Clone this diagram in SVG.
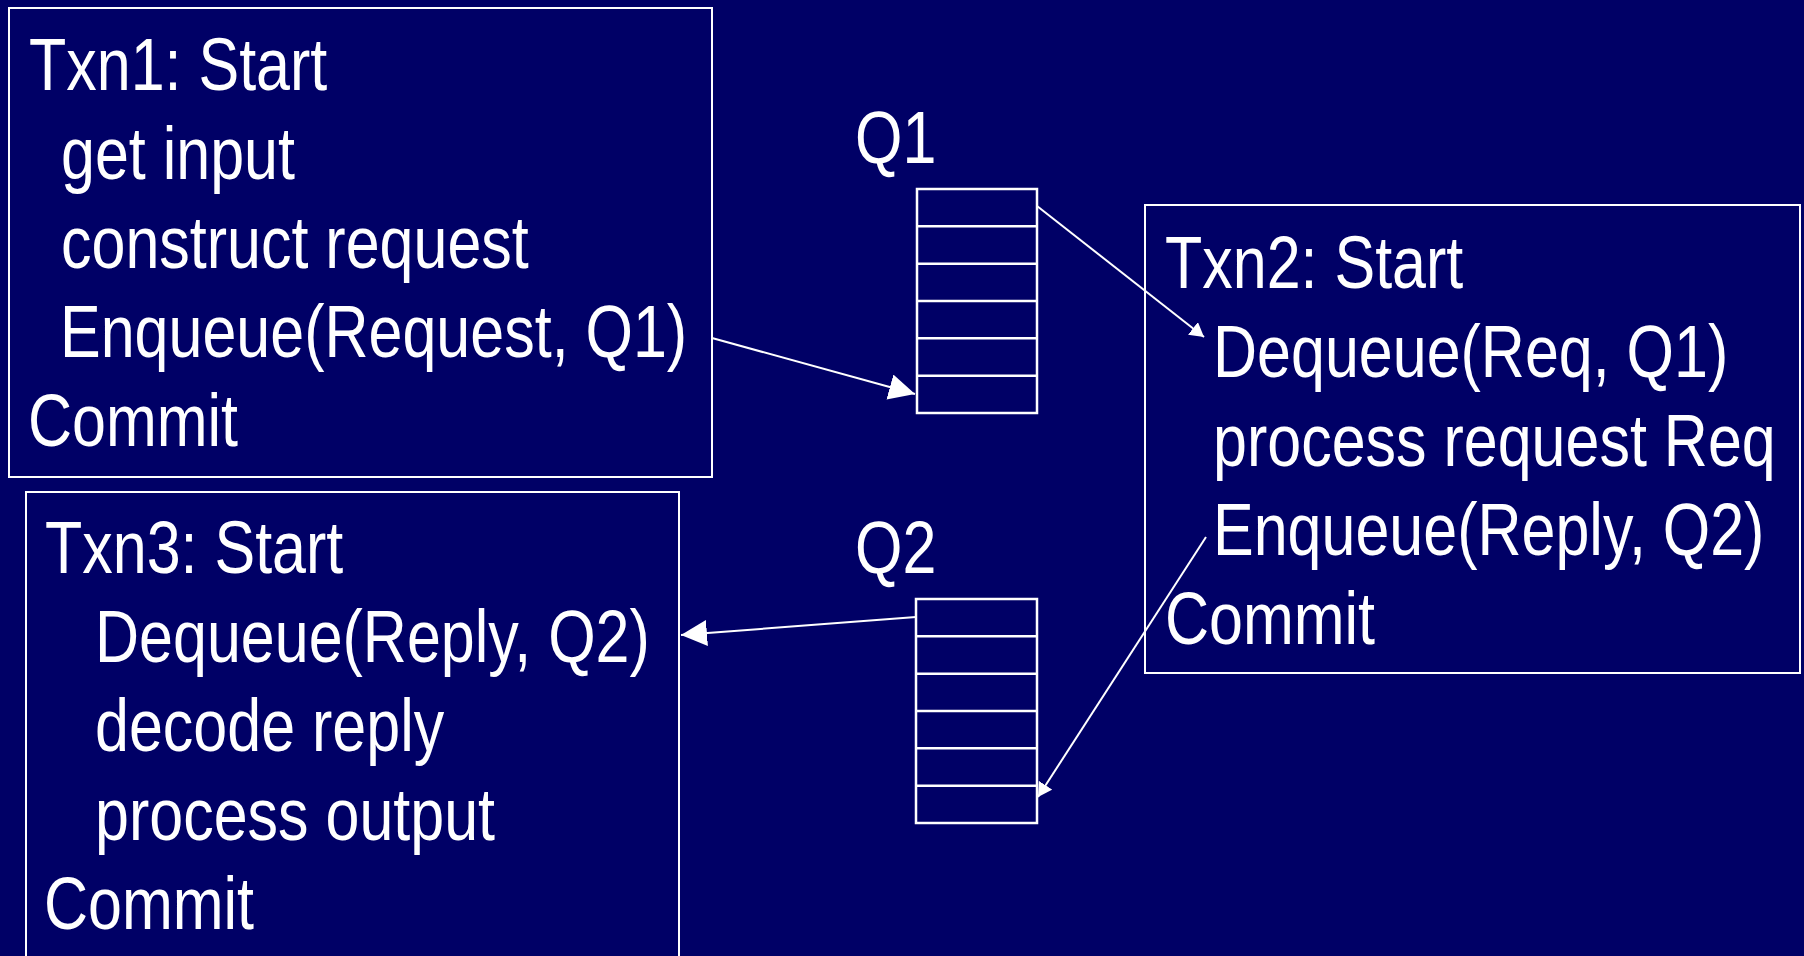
<svg xmlns="http://www.w3.org/2000/svg" width="1804" height="956" viewBox="0 0 1804 956">
  <style>
    .bg { fill: #000066; }
    .box { fill: none; stroke: #ffffff; stroke-width: 2; }
    .q { fill: none; stroke: #ffffff; stroke-width: 2.5; }
    .t { font-family: "Liberation Sans", Arial, sans-serif; font-size: 74px; fill: #ffffff; }
    .wire { stroke: #ffffff; stroke-width: 2; fill: none; }
    .big { marker-end: url(#headBig); }
    .small { marker-end: url(#headSmall); }
  </style>
  <defs>
    <marker id="headBig" markerUnits="userSpaceOnUse" markerWidth="26" markerHeight="26" viewBox="0 0 26 26" refX="26" refY="13" orient="auto">
      <path d="M0,0 L26,13 L0,26 z" fill="#ffffff"/>
    </marker>
    <marker id="headSmall" markerUnits="userSpaceOnUse" markerWidth="14" markerHeight="16" viewBox="0 0 14 16" refX="14" refY="8" orient="auto">
      <path d="M0,0 L14,8 L0,16 z" fill="#ffffff"/>
    </marker>
  </defs>

  <rect class="bg" x="0" y="0" width="1804" height="956"/>

  <!-- Text is set in a narrowed sans: each line is placed by translate and squeezed to 82% width -->

  <!-- Transaction 1: builds the request and puts it on Q1 -->
  <g id="txn1">
    <rect class="box" x="9" y="8" width="703" height="469"/>
    <text class="t" transform="translate(29 90) scale(0.8243 1)">Txn1: Start</text>
    <text class="t" transform="translate(61 179) scale(0.8243 1)">get input</text>
    <text class="t" transform="translate(61 268) scale(0.8243 1)">construct request</text>
    <text class="t" transform="translate(60 357) scale(0.8243 1)">Enqueue(Request, Q1)</text>
    <text class="t" transform="translate(28 446) scale(0.8243 1)">Commit</text>
  </g>

  <!-- Request queue -->
  <g id="q1">
    <text class="t" transform="translate(855 163) scale(0.8243 1)">Q1</text>
    <rect class="q" x="917" y="189" width="120" height="224"/>
    <path class="q" d="M917,226.3 H1037 M917,263.7 H1037 M917,301 H1037 M917,338.3 H1037 M917,375.7 H1037"/>
  </g>

  <!-- Transaction 2: serves the request, puts the reply on Q2 -->
  <g id="txn2">
    <rect class="box" x="1145" y="205" width="655" height="468"/>
    <text class="t" transform="translate(1165 288) scale(0.8243 1)">Txn2: Start</text>
    <text class="t" transform="translate(1213 377) scale(0.8243 1)">Dequeue(Req, Q1)</text>
    <text class="t" transform="translate(1213 466) scale(0.8243 1)">process request Req</text>
    <text class="t" transform="translate(1213 555) scale(0.8243 1)">Enqueue(Reply, Q2)</text>
    <text class="t" transform="translate(1165 644) scale(0.8243 1)">Commit</text>
  </g>

  <!-- Reply queue -->
  <g id="q2">
    <text class="t" transform="translate(855 573) scale(0.8243 1)">Q2</text>
    <rect class="q" x="916" y="599" width="121" height="224"/>
    <path class="q" d="M916,636.3 H1037 M916,673.7 H1037 M916,711 H1037 M916,748.3 H1037 M916,785.7 H1037"/>
  </g>

  <!-- Transaction 3: takes the reply from Q2 -->
  <g id="txn3">
    <rect class="box" x="26" y="492" width="653" height="470"/>
    <text class="t" transform="translate(45 573) scale(0.8243 1)">Txn3: Start</text>
    <text class="t" transform="translate(95 662) scale(0.8243 1)">Dequeue(Reply, Q2)</text>
    <text class="t" transform="translate(95 751) scale(0.8243 1)">decode reply</text>
    <text class="t" transform="translate(95 840) scale(0.8243 1)">process output</text>
    <text class="t" transform="translate(44 929) scale(0.8243 1)">Commit</text>
  </g>

  <!-- Message flow between transactions and queues -->
  <g id="connectors">
    <line class="wire big" x1="712" y1="338" x2="915" y2="394"/>
    <line class="wire small" x1="1037" y1="206" x2="1204" y2="337"/>
    <line class="wire small" x1="1206" y1="537" x2="1038" y2="797"/>
    <line class="wire big" x1="916" y1="617" x2="681" y2="635"/>
  </g>
</svg>
